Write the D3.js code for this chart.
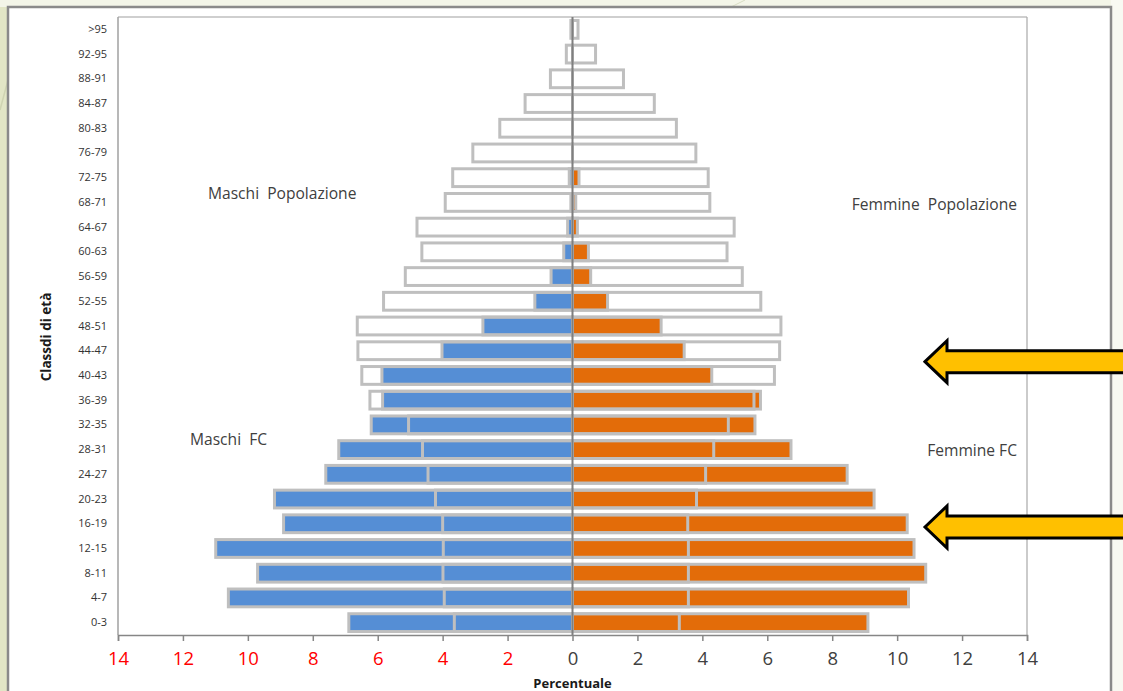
<!DOCTYPE html>
<html>
<head>
<meta charset="utf-8">
<script src="https://cdn.jsdelivr.net/npm/d3@7"></script>
<style>
  html, body { margin: 0; padding: 0; background: #f6f7ee; }
  svg { display: block; }
</style>
</head>
<body>
<svg id="chart" width="1123" height="691"></svg>
<script>
// Age classes, bottom to top
const ageClasses = ["0-3","4-7","8-11","12-15","16-19","20-23","24-27","28-31","32-35","36-39",
  "40-43","44-47","48-51","52-55","56-59","60-63","64-67","68-71","72-75","76-79",
  "80-83","84-87","88-91","92-95",">95"];

// Percent share per age class
const maschiPopolazione = [3.64,3.95,3.99,3.98,4.0,4.22,4.45,4.62,5.05,6.24,
  6.49,6.61,6.63,5.82,5.15,4.64,4.79,3.92,3.69,3.07,2.24,1.46,0.68,0.19,0.05];
const maschiFC = [6.89,10.6,9.7,10.99,8.9,9.18,7.6,7.2,6.2,5.85,
  5.87,4.02,2.76,1.16,0.66,0.27,0.15,0.05,0.1,0,0,0,0,0,0];
const femminePopolazione = [3.29,3.57,3.57,3.57,3.55,3.82,4.1,4.35,4.8,5.59,
  6.22,6.38,6.42,5.8,5.23,4.76,4.98,4.23,4.18,3.8,3.2,2.52,1.57,0.71,0.17];
const femmineFC = [9.1,10.35,10.88,10.52,10.31,9.29,8.46,6.73,5.62,5.79,
  4.29,3.44,2.73,1.08,0.56,0.49,0.15,0.1,0.2,0,0,0,0,0,0];

const xTicks = [-14,-12,-10,-8,-6,-4,-2,0,2,4,6,8,10,12,14];

const svg = d3.select("#chart");
const W = 1123, H = 691;
const plot = { left: 118, right: 1027, top: 17, bottom: 635 };

// backdrop strips around the chart frame
svg.append("rect").attr("x", 0).attr("y", 0).attr("width", W).attr("height", H).attr("fill", "#f8f9f2");
svg.append("rect").attr("x", 0).attr("y", 0).attr("width", 8).attr("height", H).attr("fill", "#e2e6c6");
svg.append("rect").attr("x", 0).attr("y", 0).attr("width", 1111).attr("height", 7).attr("fill", "#f3f5e8");
svg.append("line").attr("x1", 731).attr("y1", 7).attr("x2", 745).attr("y2", 0)
  .attr("stroke", "#d8dcc4").attr("stroke-width", 1);
svg.append("line").attr("x1", 0).attr("y1", 110).attr("x2", 8).attr("y2", 80)
  .attr("stroke", "#cfd4b2").attr("stroke-width", 1.5);

// chart frame
svg.append("rect").attr("x", 8).attr("y", 7).attr("width", 1103).attr("height", H + 10)
  .attr("fill", "#ffffff").attr("stroke", "#8a8a8a").attr("stroke-width", 2.5);

const x = d3.scaleLinear().domain([-14, 14]).range([plot.left, plot.right]);
const y = d3.scaleBand().domain(ageClasses.slice().reverse())
  .range([plot.top, plot.bottom]).paddingInner(0.28).paddingOuter(0.14);

// plot area border
svg.append("line").attr("x1", plot.left).attr("x2", plot.right).attr("y1", plot.top).attr("y2", plot.top)
  .attr("stroke", "#bfbfbf").attr("stroke-width", 1.5);
svg.append("line").attr("x1", plot.right).attr("x2", plot.right).attr("y1", plot.top).attr("y2", plot.bottom)
  .attr("stroke", "#a8a8a8").attr("stroke-width", 1.2);
svg.append("line").attr("x1", plot.left).attr("x2", plot.left).attr("y1", plot.top).attr("y2", plot.bottom)
  .attr("stroke", "#a0a0a0").attr("stroke-width", 1.5);

const rows = ageClasses.map((a, i) => ({
  age: a, mPop: maschiPopolazione[i], mFC: maschiFC[i], fPop: femminePopolazione[i], fFC: femmineFC[i]
}));

const barStroke = "#bfbfbf";
const bars = svg.append("g");

// FC bars (filled)
bars.selectAll("rect.mfc").data(rows.filter(d => d.mFC > 0)).join("rect")
  .attr("x", d => x(-d.mFC)).attr("width", d => x(0) - x(-d.mFC))
  .attr("y", d => y(d.age)).attr("height", y.bandwidth())
  .attr("fill", "#558ed5").attr("stroke", barStroke).attr("stroke-width", 3);
bars.selectAll("rect.ffc").data(rows.filter(d => d.fFC > 0)).join("rect")
  .attr("x", x(0)).attr("width", d => x(d.fFC) - x(0))
  .attr("y", d => y(d.age)).attr("height", y.bandwidth())
  .attr("fill", "#e36c09").attr("stroke", barStroke).attr("stroke-width", 3);

// population bars (outline only)
bars.selectAll("rect.mpop").data(rows).join("rect")
  .attr("x", d => x(-d.mPop)).attr("width", d => x(0) - x(-d.mPop))
  .attr("y", d => y(d.age)).attr("height", y.bandwidth())
  .attr("fill", "none").attr("stroke", barStroke).attr("stroke-width", 3);
bars.selectAll("rect.fpop").data(rows).join("rect")
  .attr("x", x(0)).attr("width", d => x(d.fPop) - x(0))
  .attr("y", d => y(d.age)).attr("height", y.bandwidth())
  .attr("fill", "none").attr("stroke", barStroke).attr("stroke-width", 3);

// central axis
svg.append("line").attr("x1", x(0)).attr("x2", x(0)).attr("y1", plot.top).attr("y2", plot.bottom)
  .attr("stroke", "#7f7f7f").attr("stroke-width", 2);

// x axis
const xAxis = svg.append("g").attr("transform", `translate(0,${plot.bottom})`)
  .call(d3.axisBottom(x).tickValues(xTicks).tickSize(6).tickPadding(11).tickFormat(d => Math.abs(d)));
xAxis.select(".domain").attr("stroke", "#868686").attr("stroke-width", 1.5);
xAxis.selectAll(".tick line").attr("stroke", "#868686").attr("stroke-width", 1.5);
xAxis.selectAll(".tick text")
  .attr("font-family", "'Open Sans', sans-serif").attr("font-size", 18.5)
  .attr("fill", d => d < 0 ? "#ff0000" : "#404040");

// y axis labels
const yAxis = svg.append("g").attr("transform", `translate(${plot.left},0)`)
  .call(d3.axisLeft(y).tickSize(0).tickPadding(11));
yAxis.select(".domain").remove();
yAxis.selectAll(".tick text")
  .attr("font-family", "'Open Sans', sans-serif").attr("font-size", 11).attr("fill", "#333333");

// axis titles
svg.append("text").attr("x", x(0)).attr("y", 688).attr("text-anchor", "middle")
  .attr("font-family", "'Open Sans', sans-serif").attr("font-weight", "bold").attr("font-size", 13)
  .attr("fill", "#1a1a1a").text("Percentuale");
svg.append("text").attr("transform", "translate(51,337) rotate(-90)").attr("text-anchor", "middle")
  .attr("font-family", "'Open Sans', sans-serif").attr("font-weight", "bold").attr("font-size", 13.5)
  .attr("fill", "#1a1a1a").text("Classdi di età");

// series labels
const labelFont = "'Open Sans', sans-serif";
const seriesLabels = [
  { t: "Maschi  Popolazione", x: 208, y: 199, a: "start" },
  { t: "Femmine  Popolazione", x: 1017, y: 210, a: "end" },
  { t: "Maschi  FC", x: 190, y: 445, a: "start" },
  { t: "Femmine FC", x: 1017, y: 456, a: "end" }
];
svg.selectAll("text.series").data(seriesLabels).join("text")
  .attr("x", d => d.x).attr("y", d => d.y).attr("text-anchor", d => d.a)
  .attr("font-family", labelFont).attr("font-size", 15.6).attr("fill", "#404040")
  .style("white-space", "pre").attr("xml:space", "preserve").text(d => d.t);

// highlight arrows
function arrow(cy) {
  const tip = 925, back = 947, end = 1135, hh = 21, sh = 11;
  return `M${tip},${cy} L${back},${cy - hh} L${back},${cy - sh} L${end},${cy - sh} L${end},${cy + sh} L${back},${cy + sh} L${back},${cy + hh} Z`;
}
[361.7, 527].forEach(cy => {
  svg.append("path").attr("d", arrow(cy)).attr("fill", "#ffc000")
    .attr("stroke", "#000000").attr("stroke-width", 3).attr("stroke-linejoin", "miter");
});
</script>
</body>
</html>
